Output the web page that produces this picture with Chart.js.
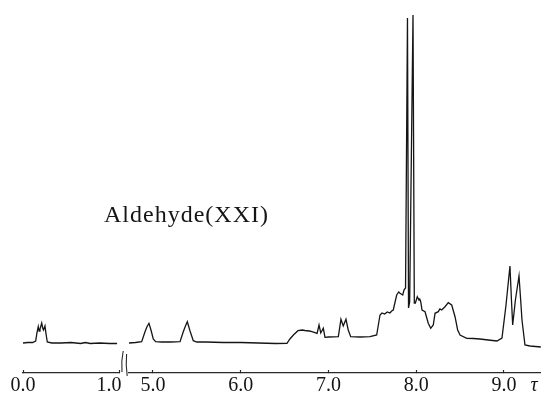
<!DOCTYPE html>
<html>
<head>
<meta charset="utf-8">
<script src="https://cdn.jsdelivr.net/npm/chart.js@4"></script>
<style>
  html, body { margin: 0; padding: 0; background: #fff; }
  #wrap { position: relative; width: 541px; height: 394px; overflow: hidden; background: #fff; }
  #wrap canvas { position: absolute; left: 0; top: 0; }
</style>
</head>
<body>
<div id="wrap">
  <canvas id="left" width="541" height="394"></canvas>
  <canvas id="right" width="541" height="394"></canvas>
</div>
<script>
// ---- data (tau in ppm, intensity in arbitrary units above axis) ----
const titleText = "Aldehyde(XXI)";
const axisUnit = "τ";

const leftTicks = [0.0, 1.0];
const rightTicks = [5.0, 6.0, 7.0, 8.0, 9.0];

const leftTau = [0.0, 0.05, 0.10, 0.132, 0.145, 0.159, 0.168, 0.177, 0.195, 0.205, 0.214, 0.229, 0.24, 0.253,
                 0.30, 0.40, 0.50, 0.60, 0.65, 0.70, 0.80, 0.90, 0.98];
const leftI   = [30, 30.5, 30.5, 32, 40, 46.5, 42, 44, 50, 45, 43, 47, 39, 31,
                 30, 30, 30.5, 29.5, 30.5, 29.5, 30, 29.5, 29.5];

const rightTau = [4.726, 4.80, 4.871, 4.909, 4.93, 4.954, 4.977, 5.003, 5.03, 5.10, 5.20,
                  5.308, 5.345, 5.37, 5.391, 5.422, 5.459, 5.50, 5.60, 5.80, 6.00, 6.20, 6.40,
                  6.527, 6.56, 6.60, 6.652, 6.70, 6.732, 6.78, 6.812, 6.87, 6.892, 6.912, 6.941, 6.96,
                  7.00, 7.112, 7.142, 7.168, 7.199, 7.225, 7.253, 7.36, 7.473, 7.549, 7.587,
                  7.61, 7.64, 7.67, 7.70, 7.72, 7.738, 7.777, 7.80, 7.815, 7.846, 7.86, 7.878,
                  7.900, 7.912, 7.925, 7.963, 7.978,
                  7.99, 8.012, 8.031, 8.04, 8.051, 8.066, 8.10, 8.137, 8.165, 8.194, 8.214, 8.251,
                  8.27, 8.29, 8.328, 8.365, 8.404, 8.442, 8.472, 8.499, 8.575, 8.65, 8.726, 8.82,
                  8.92, 8.977, 9.023, 9.046, 9.068, 9.085, 9.099, 9.13, 9.171, 9.19, 9.205, 9.239,
                  9.296, 9.36, 9.42];
const rightI   = [30, 30.5, 31.3, 41.3, 46, 49.7, 43, 34, 31.3, 31, 31,
                  31.3, 41.3, 47, 51.3, 42, 32.3, 31, 31, 30.5, 30.5, 30, 29.5,
                  29.7, 34, 38, 42.3, 43, 42.5, 42, 41.3, 39.7, 48, 40, 44.7, 35.7,
                  36, 36.3, 53.7, 47, 53.7, 43, 36.3, 36, 36.3, 38, 58,
                  60, 59, 61, 60, 62, 63, 78, 81, 79.7, 78, 83, 85,
                  355, 65, 71, 358, 70,
                  70, 76.3, 73, 74, 71.3, 63, 61.3, 49.7, 44.7, 48, 59.7, 61.3,
                  64, 63, 66.3, 70.3, 68, 56.3, 43, 38, 34.7, 34.5, 34, 33,
                  32, 35, 68, 88, 107, 73, 48, 73, 97, 73, 53, 28,
                  27, 26.5, 26];

// ---- styling ----
const INK = '#151515';
const AXIS_INK = '#2a2a2a';
const SERIF = '"Liberation Serif", "DejaVu Serif", serif';

function pts(xs, ys) { return xs.map((x, i) => ({ x: x, y: ys[i] })); }

function xScale(min, max, tickVals, labelFn) {
  return {
    type: 'linear',
    min: min, max: max,
    afterBuildTicks: (scale) => { scale.ticks = tickVals.map(v => ({ value: v })); },
    afterFit: (scale) => { scale.height = 21; },
    border: { display: true, color: AXIS_INK, width: 1.2 },
    grid: { drawOnChartArea: false, drawTicks: true, tickLength: -3, color: AXIS_INK, tickWidth: 1.2 },
    ticks: {
      padding: 7,
      color: INK,
      font: { family: SERIF, size: 20, lineHeight: 0.9 },
      maxRotation: 0, autoSkip: false,
      callback: labelFn
    }
  };
}
const yScale = { display: false, min: 0, max: 360 };

// the "1.0" label sits left of its tick because of the axis break
const leftLabel = (v) => (Number(v) === 1 ? '1.0\u2002\u2002' : Number(v).toFixed(1));
const rightLabel = (v) => Number(v).toFixed(1);

const decorPlugin = {
  id: 'decor',
  afterDraw(chart) {
    const ctx = chart.ctx;
    ctx.save();
    // title text
    ctx.fillStyle = INK;
    ctx.font = '24px ' + SERIF;
    ctx.textBaseline = 'alphabetic';
    ctx.textAlign = 'left';
    try { ctx.letterSpacing = '1px'; } catch (e) {}
    ctx.fillText(titleText, 104, 222);
    try { ctx.letterSpacing = '0px'; } catch (e) {}
    // unit symbol
    ctx.font = 'italic 20px ' + SERIF;
    ctx.textBaseline = 'middle';
    ctx.textAlign = 'center';
    const xs = chart.scales.x;
    ctx.fillText(axisUnit, 534, xs.top + 13);
    // axis break marks
    ctx.strokeStyle = AXIS_INK;
    ctx.lineWidth = 1.1;
    ctx.beginPath();
    ctx.moveTo(123.2, 351);
    ctx.quadraticCurveTo(121.0, 361, 122.0, 372);
    ctx.moveTo(126.6, 354);
    ctx.quadraticCurveTo(125.6, 365, 127.2, 376);
    ctx.stroke();
    ctx.restore();
  }
};

function makeChart(id, data, xmin, xmax, ticks, labelFn, padL, padR, plugins) {
  return new Chart(document.getElementById(id), {
    type: 'line',
    data: {
      datasets: [{
        data: data,
        borderColor: INK,
        borderWidth: 1.3,
        pointRadius: 0,
        tension: 0,
        fill: false
      }]
    },
    options: {
      responsive: false,
      animation: false,
      devicePixelRatio: 1,
      layout: { padding: { left: padL, right: padR, top: 13, bottom: 0 } },
      plugins: { legend: { display: false }, tooltip: { enabled: false }, title: { display: false } },
      scales: { x: xScale(xmin, xmax, ticks, labelFn), y: yScale }
    },
    plugins: plugins
  });
}

makeChart('left', pts(leftTau, leftI), 0.0, 1.0, leftTicks, leftLabel, 23, 541 - 119, []);
makeChart('right', pts(rightTau, rightI), 4.7265, 9.4217, rightTicks, rightLabel, 129, 0, [decorPlugin]);
</script>
</body>
</html>
